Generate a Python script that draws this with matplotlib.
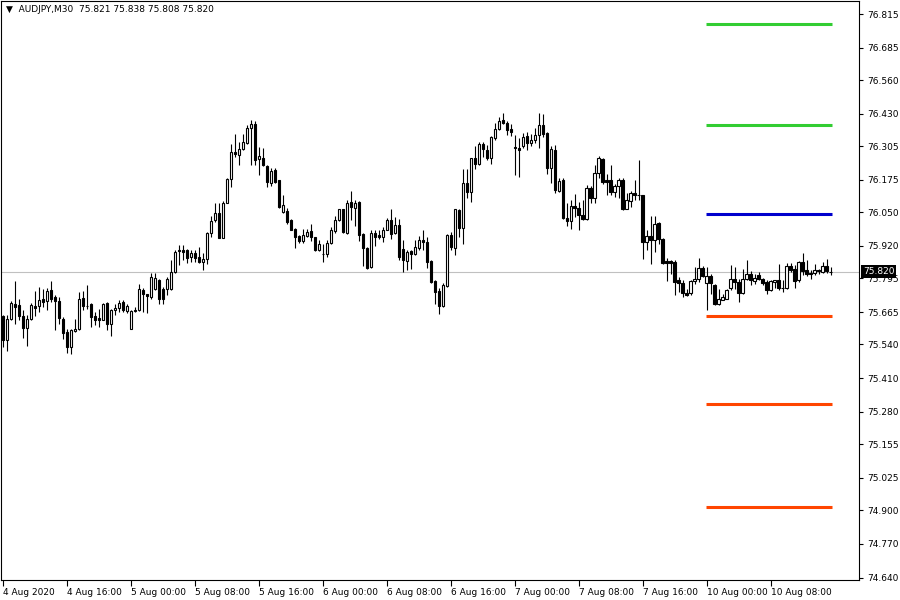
import numpy as np
import matplotlib.pyplot as plt
from matplotlib.transforms import blended_transform_factory

symbol = 'AUDJPY,M30'

# AUDJPY M30 candles, bar 0 = 4 Aug 2020 08:00
opens = [
    75.648, 75.556, 75.639, 75.697, 75.691, 75.648, 75.603, 75.639, 75.690, 75.687,
    75.714, 75.706, 75.749, 75.723, 75.706, 75.639, 75.588, 75.530, 75.591, 75.601,
    75.718, 75.690, 75.695, 75.648, 75.641, 75.636, 75.701, 75.620, 75.671, 75.682,
    75.703, 75.669, 75.601, 75.668, 75.671, 75.749, 75.733, 75.723, 75.755, 75.790,
    75.755, 75.755, 75.755, 75.819, 75.906, 75.903, 75.903, 75.877, 75.893, 75.877,
    75.858, 75.869, 75.972, 76.019, 76.049, 75.952, 76.087, 76.177, 76.281, 76.273,
    76.296, 76.318, 76.377, 76.390, 76.254, 76.261, 76.228, 76.163, 76.212, 76.174,
    76.051, 76.055, 76.022, 75.984, 75.957, 75.938, 75.959, 75.977, 75.955, 75.903,
    75.890, 75.890, 75.931, 75.977, 76.019, 76.061, 75.972, 76.090, 76.068, 76.090,
    75.965, 75.914, 75.839, 75.970, 75.961, 75.955, 75.983, 76.019, 75.970, 76.000,
    75.910, 75.862, 75.901, 75.888, 75.912, 75.945, 75.937, 75.862, 75.783, 75.746,
    75.688, 75.765, 75.961, 75.912, 76.058, 75.991, 76.165, 76.129, 76.261, 76.238,
    76.315, 76.292, 76.258, 76.335, 76.373, 76.405, 76.393, 76.371, 76.302, 76.300,
    76.305, 76.344, 76.318, 76.331, 76.347, 76.386, 76.356, 76.221, 76.292, 76.132,
    76.174, 76.029, 76.016, 76.073, 76.068, 76.041, 76.026, 76.144, 76.105, 76.200,
    76.254, 76.174, 76.174, 76.129, 76.151, 76.176, 76.064, 76.094, 76.126, 76.118,
    76.116, 75.935, 75.957, 75.945, 76.009, 75.948, 75.861, 75.861, 75.858, 75.787,
    75.778, 75.740, 75.738, 75.785, 75.791, 75.836, 75.777, 75.803, 75.771, 75.695,
    75.713, 75.717, 75.758, 75.794, 75.781, 75.738, 75.794, 75.813, 75.785, 75.807,
    75.794, 75.781, 75.751, 75.781, 75.787, 75.759, 75.759, 75.842, 75.833, 75.787,
    75.858, 75.826, 75.816, 75.816, 75.826, 75.819, 75.844, 75.821,
]
highs = [
    75.652, 75.652, 75.706, 75.783, 75.714, 75.671, 75.652, 75.700, 75.746, 75.761,
    75.755, 75.759, 75.783, 75.729, 75.723, 75.645, 75.599, 75.599, 75.639, 75.742,
    75.745, 75.768, 75.700, 75.665, 75.675, 75.700, 75.703, 75.678, 75.697, 75.710,
    75.710, 75.697, 75.671, 75.684, 75.772, 75.758, 75.736, 75.817, 75.816, 75.791,
    75.761, 75.800, 75.865, 75.903, 75.923, 75.923, 75.910, 75.903, 75.903, 75.916,
    75.891, 75.974, 76.035, 76.086, 76.084, 76.094, 76.183, 76.312, 76.351, 76.322,
    76.354, 76.386, 76.405, 76.403, 76.302, 76.300, 76.232, 76.220, 76.220, 76.174,
    76.116, 76.068, 76.026, 75.991, 75.964, 75.987, 75.987, 76.003, 75.955, 75.942,
    75.926, 75.942, 75.993, 76.035, 76.064, 76.064, 76.099, 76.131, 76.096, 76.094,
    75.970, 75.916, 75.983, 75.983, 75.981, 75.993, 76.029, 76.061, 76.032, 76.026,
    75.942, 75.906, 75.906, 75.942, 75.959, 75.981, 75.955, 75.867, 75.787, 75.759,
    75.777, 75.968, 75.974, 76.064, 76.064, 76.216, 76.219, 76.261, 76.305, 76.322,
    76.322, 76.309, 76.344, 76.393, 76.418, 76.435, 76.403, 76.390, 76.347, 76.335,
    76.356, 76.360, 76.354, 76.377, 76.435, 76.431, 76.360, 76.305, 76.309, 76.184,
    76.184, 76.084, 76.099, 76.122, 76.090, 76.096, 76.154, 76.151, 76.232, 76.266,
    76.261, 76.197, 76.232, 76.161, 76.184, 76.184, 76.125, 76.132, 76.174, 76.251,
    76.118, 75.981, 76.035, 76.035, 76.013, 75.951, 75.875, 75.865, 75.865, 75.800,
    75.787, 75.755, 75.790, 75.839, 75.875, 75.842, 75.839, 75.810, 75.775, 75.755,
    75.733, 75.755, 75.845, 75.839, 75.794, 75.833, 75.867, 75.822, 75.810, 75.819,
    75.798, 75.787, 75.790, 75.790, 75.852, 75.787, 75.854, 75.854, 75.845, 75.861,
    75.893, 75.865, 75.826, 75.852, 75.833, 75.858, 75.871, 75.838,
]
lows = [
    75.530, 75.514, 75.633, 75.617, 75.633, 75.565, 75.533, 75.636, 75.648, 75.666,
    75.684, 75.671, 75.703, 75.594, 75.620, 75.562, 75.507, 75.504, 75.588, 75.594,
    75.671, 75.678, 75.607, 75.614, 75.607, 75.633, 75.594, 75.571, 75.652, 75.665,
    75.665, 75.661, 75.598, 75.665, 75.668, 75.665, 75.661, 75.717, 75.751, 75.697,
    75.697, 75.729, 75.751, 75.816, 75.845, 75.867, 75.854, 75.858, 75.858, 75.856,
    75.826, 75.852, 75.955, 76.013, 75.949, 75.952, 76.084, 76.148, 76.264, 76.232,
    76.290, 76.315, 76.232, 76.232, 76.193, 76.228, 76.146, 76.150, 76.162, 76.067,
    76.047, 76.006, 75.981, 75.912, 75.931, 75.931, 75.955, 75.939, 75.901, 75.901,
    75.858, 75.877, 75.926, 75.970, 76.016, 75.970, 75.968, 76.019, 75.999, 75.939,
    75.842, 75.831, 75.836, 75.919, 75.948, 75.935, 75.981, 75.946, 75.968, 75.867,
    75.819, 75.826, 75.833, 75.884, 75.906, 75.903, 75.836, 75.777, 75.697, 75.659,
    75.684, 75.761, 75.906, 75.884, 75.955, 75.929, 76.107, 76.090, 76.219, 76.232,
    76.264, 76.251, 76.238, 76.331, 76.369, 76.389, 76.350, 76.344, 76.193, 76.186,
    76.298, 76.292, 76.305, 76.318, 76.300, 76.341, 76.197, 76.165, 76.125, 76.129,
    76.026, 75.996, 75.987, 76.032, 75.981, 76.019, 76.022, 76.084, 76.086, 76.184,
    76.158, 76.116, 76.116, 76.109, 76.105, 76.058, 76.061, 76.071, 76.099, 76.096,
    75.871, 75.903, 75.852, 75.897, 75.929, 75.852, 75.785, 75.813, 75.729, 75.742,
    75.723, 75.727, 75.729, 75.775, 75.781, 75.800, 75.671, 75.736, 75.691, 75.691,
    75.713, 75.717, 75.749, 75.755, 75.703, 75.736, 75.787, 75.768, 75.775, 75.787,
    75.768, 75.736, 75.746, 75.759, 75.749, 75.742, 75.755, 75.819, 75.759, 75.781,
    75.807, 75.803, 75.794, 75.807, 75.813, 75.816, 75.816, 75.808,
]
closes = [
    75.556, 75.639, 75.700, 75.684, 75.648, 75.604, 75.637, 75.691, 75.680, 75.710,
    75.703, 75.745, 75.717, 75.706, 75.643, 75.584, 75.530, 75.594, 75.601, 75.714,
    75.687, 75.689, 75.645, 75.636, 75.636, 75.697, 75.620, 75.671, 75.682, 75.700,
    75.671, 75.687, 75.668, 75.671, 75.755, 75.736, 75.726, 75.800, 75.796, 75.717,
    75.717, 75.794, 75.819, 75.897, 75.901, 75.897, 75.875, 75.893, 75.875, 75.858,
    75.869, 75.972, 76.016, 76.049, 75.952, 76.087, 76.180, 76.281, 76.275, 76.295,
    76.323, 76.377, 76.390, 76.251, 76.266, 76.232, 76.167, 76.210, 76.168, 76.071,
    76.077, 76.013, 75.983, 75.955, 75.938, 75.961, 75.974, 75.955, 75.903, 75.926,
    75.889, 75.931, 75.981, 76.019, 76.062, 75.974, 76.087, 76.071, 76.087, 75.961,
    75.914, 75.836, 75.970, 75.955, 75.955, 75.983, 76.019, 75.968, 76.000, 75.877,
    75.865, 75.897, 75.888, 75.916, 75.945, 75.935, 75.858, 75.781, 75.742, 75.688,
    75.768, 75.961, 75.916, 76.061, 75.991, 76.165, 76.129, 76.258, 76.235, 76.315,
    76.296, 76.258, 76.339, 76.373, 76.403, 76.393, 76.367, 76.360, 76.300, 76.292,
    76.341, 76.318, 76.328, 76.347, 76.386, 76.354, 76.221, 76.296, 76.135, 76.170,
    76.028, 76.016, 76.073, 76.068, 76.038, 76.026, 76.144, 76.105, 76.202, 76.258,
    76.167, 76.167, 76.129, 76.151, 76.176, 76.061, 76.096, 76.126, 76.118, 76.117,
    75.935, 75.957, 75.945, 76.006, 75.948, 75.856, 75.856, 75.856, 75.781, 75.777,
    75.738, 75.732, 75.783, 75.794, 75.836, 75.803, 75.803, 75.777, 75.695, 75.714,
    75.723, 75.749, 75.794, 75.781, 75.738, 75.794, 75.813, 75.787, 75.798, 75.791,
    75.777, 75.749, 75.783, 75.787, 75.759, 75.758, 75.842, 75.829, 75.785, 75.858,
    75.823, 75.810, 75.810, 75.826, 75.822, 75.844, 75.823, 75.820,
]

# time axis labels (bar index -> text)
tick_bars = [0, 16, 32, 48, 64, 80, 96, 112, 128, 144, 160, 176, 192]
tick_labels = ['4 Aug 2020', '4 Aug 16:00', '5 Aug 00:00', '5 Aug 08:00', '5 Aug 16:00',
               '6 Aug 00:00', '6 Aug 08:00', '6 Aug 16:00', '7 Aug 00:00', '7 Aug 08:00',
               '7 Aug 16:00', '10 Aug 00:00', '10 Aug 08:00']

price_labels = ['74.640', '74.770', '74.900', '75.025', '75.155', '75.280', '75.410', '75.540',
                '75.665', '75.795', '75.920', '76.050', '76.175', '76.305', '76.430', '76.560',
                '76.685', '76.815']

# horizontal levels drawn from 10 Aug 00:00 to the last bar
levels = [76.776, 76.386, 76.045, 75.648, 75.308, 74.914]
level_colors = ['#32cd32', '#32cd32', '#0000cd', '#ff4500', '#ff4500', '#ff4500']
level_first_bar = 176
level_last_bar = 207

o = np.array(opens)
h = np.array(highs)
l = np.array(lows)
c = np.array(closes)
x = np.arange(len(o))
up = c >= o

fig = plt.figure(figsize=(9, 6), dpi=100)
ax = fig.add_axes([0.001, 0.034, 0.953, 0.964])

ax.axhline(c[-1], color='#c0c0c0', lw=0.8, zorder=0)

ax.vlines(x, l, h, color='black', lw=0.8, zorder=2)
lo = np.minimum(o, c)
hgt = np.abs(c - o)
ax.bar(x[up], hgt[up], bottom=lo[up], width=0.6, facecolor='white',
       edgecolor='black', lw=0.8, zorder=3)
ax.bar(x[~up], hgt[~up], bottom=lo[~up], width=0.6, facecolor='black',
       edgecolor='black', lw=0.8, zorder=3)

ax.hlines(levels, level_first_bar - 0.25, level_last_bar + 0.25,
          colors=level_colors, lw=2.2, zorder=4)

ax.set_xlim(-0.5, 214)
ax.set_ylim(74.632, 76.865)

ax.yaxis.tick_right()
ax.set_yticks([float(v) for v in price_labels])
ax.set_yticklabels(price_labels)
ax.set_xticks(tick_bars)
ax.set_xticklabels(tick_labels, ha='left')
ax.tick_params(axis='y', length=3, width=0.8, labelsize=6.5, pad=3)
ax.tick_params(axis='x', length=4, width=0.8, labelsize=6.5, pad=2)
for s in ax.spines.values():
    s.set_linewidth(0.8)

ax.text(0.006, 0.993, '\u25bc  ' + symbol + '  %.3f %.3f %.3f %.3f' % (o[-1], h[-1], l[-1], c[-1]),
        transform=ax.transAxes, fontsize=6.5, va='top', ha='left')

trans = blended_transform_factory(ax.transAxes, ax.transData)
ax.text(1.005, c[-1], '%.3f' % c[-1], transform=trans, color='white', fontsize=6.5,
        va='center', ha='left', zorder=10, clip_on=False,
        bbox=dict(facecolor='black', edgecolor='none', pad=1.5))

fig.savefig('out.png', dpi=100)
